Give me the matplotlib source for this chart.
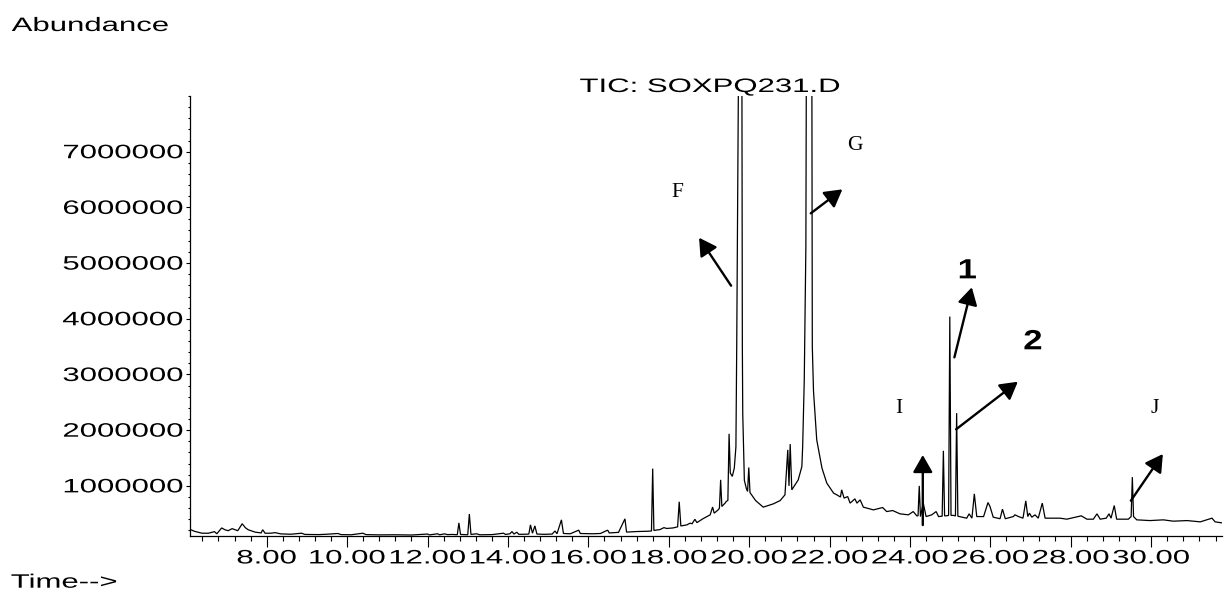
import matplotlib
matplotlib.use("Agg")
import matplotlib.pyplot as plt
from matplotlib.patheffects import AbstractPathEffect
from matplotlib.transforms import Affine2D
from matplotlib.ticker import MultipleLocator

# ---------------- data ----------------
rt_min = [
    6.07, 6.20, 6.39, 6.55, 6.70, 6.76, 6.88, 6.96, 7.04, 7.14, 7.28, 7.39, 7.47, 7.54,
    7.71, 7.86, 7.90, 7.96, 8.10, 8.21, 8.35, 8.60, 8.87, 8.95, 9.30, 9.50, 9.77, 9.85,
    10.10, 10.39, 10.47, 10.80, 11.20, 11.60, 12.00, 12.05, 12.25, 12.30, 12.42, 12.50,
    12.62, 12.74, 12.78, 12.82, 13.00, 13.04, 13.08, 13.22, 13.30, 13.60, 13.89, 13.94,
    14.05, 14.10, 14.15, 14.22, 14.27, 14.45, 14.52, 14.56, 14.61, 14.67, 14.72, 14.90,
    15.10, 15.17, 15.22, 15.33, 15.38, 15.55, 15.76, 15.80, 16.10, 16.30, 16.48, 16.52,
    16.75, 16.91, 16.95, 17.20, 17.45, 17.57, 17.60, 17.63, 17.78, 17.88, 17.95, 18.11,
    18.22, 18.26, 18.30, 18.45, 18.53, 18.58, 18.65, 18.70, 18.85, 18.95, 19.03, 19.09,
    19.13, 19.23, 19.26, 19.29, 19.32, 19.40, 19.43, 19.47, 19.50, 19.53, 19.58, 19.63,
    19.67, 19.69, 19.71, 19.73, 19.775, 19.82, 19.83, 19.84, 19.86, 19.88, 19.93, 19.96,
    19.99, 20.02, 20.16, 20.35, 20.60, 20.77, 20.89, 20.96, 20.99, 21.02, 21.06, 21.14,
    21.22, 21.31, 21.33, 21.37, 21.41, 21.42, 21.49, 21.56, 21.57, 21.60, 21.68, 21.81,
    21.93, 22.10, 22.18, 22.27, 22.30, 22.36, 22.45, 22.51, 22.63, 22.68, 22.76, 22.84,
    23.09, 23.32, 23.42, 23.57, 23.75, 23.96, 24.08, 24.17, 24.20, 24.23, 24.26, 24.33,
    24.40, 24.54, 24.65, 24.71, 24.80, 24.83, 24.86, 24.90, 24.96, 24.99, 25.02, 25.08,
    25.13, 25.16, 25.19, 25.23, 25.41, 25.47, 25.54, 25.60, 25.66, 25.83, 25.94, 25.99,
    26.07, 26.24, 26.30, 26.37, 26.57, 26.61, 26.70, 26.81, 26.88, 26.93, 26.97, 27.03,
    27.11, 27.19, 27.29, 27.36, 27.73, 27.90, 28.26, 28.40, 28.56, 28.65, 28.73, 28.88,
    28.95, 29.00, 29.08, 29.14, 29.43, 29.50, 29.53, 29.56, 29.64, 29.97, 30.30, 30.55,
    30.89, 31.22, 31.51, 31.59, 31.81,
]
abundance = [
    228e3, 185e3, 150e3, 150e3, 178e3, 140e3, 245e3, 212e3, 195e3, 232e3, 195e3, 320e3, 248e3, 212e3,
    170e3, 155e3, 212e3, 150e3, 150e3, 160e3, 138e3, 132e3, 150e3, 128e3, 125e3, 132e3, 145e3, 125e3,
    122e3, 150e3, 125e3, 120e3, 122e3, 118e3, 135e3, 120e3, 140e3, 122e3, 138e3, 125e3,
    128e3, 122e3, 335e3, 128e3, 122e3, 495e3, 128e3, 140e3, 122e3, 125e3, 150e3, 128e3,
    140e3, 180e3, 135e3, 168e3, 130e3, 132e3, 135e3, 300e3, 150e3, 282e3, 135e3, 130e3,
    135e3, 190e3, 140e3, 390e3, 145e3, 140e3, 205e3, 145e3, 140e3, 145e3, 205e3, 155e3,
    165e3, 408e3, 170e3, 180e3, 185e3, 190e3, 1310e3, 200e3, 215e3, 250e3, 235e3, 245e3,
    265e3, 715e3, 280e3, 300e3, 330e3, 320e3, 400e3, 340e3, 410e3, 450e3, 480e3, 620e3,
    510e3, 570e3, 600e3, 1108e3, 630e3, 690e3, 720e3, 740e3, 1935e3, 1230e3, 1170e3, 1320e3,
    1700e3, 3500e3, 5900e3, 8000e3, 12000e3, 8000e3, 3500e3, 2300e3, 1700e3, 1100e3, 950e3, 900e3,
    1330e3, 880e3, 736e3, 618e3, 677e3, 736e3, 839e3, 1647e3, 1000e3, 1750e3, 929e3, 1018e3,
    1108e3, 1347e3, 1700e3, 2900e3, 5300e3, 8000e3, 12000e3, 8000e3, 3500e3, 2700e3, 1827e3, 1320e3,
    1050e3, 869e3, 839e3, 800e3, 929e3, 780e3, 808e3, 690e3, 767e3, 690e3, 749e3, 618e3,
    569e3, 611e3, 539e3, 557e3, 498e3, 480e3, 539e3, 462e3, 462e3, 1000e3, 449e3, 690e3,
    449e3, 480e3, 539e3, 449e3, 455e3, 1630e3, 462e3, 462e3, 470e3, 4040e3, 470e3, 470e3,
    460e3, 2306e3, 455e3, 449e3, 420e3, 498e3, 420e3, 857e3, 449e3, 449e3, 701e3, 629e3,
    438e3, 410e3, 582e3, 410e3, 449e3, 480e3, 449e3, 420e3, 731e3, 449e3, 510e3, 438e3,
    480e3, 420e3, 690e3, 420e3, 420e3, 402e3, 462e3, 402e3, 402e3, 498e3, 402e3, 420e3,
    498e3, 420e3, 647e3, 402e3, 402e3, 449e3, 1157e3, 449e3, 390e3, 377e3, 390e3, 366e3,
    377e3, 354e3, 420e3, 354e3, 330e3,
]

x_ticks = [8, 10, 12, 14, 16, 18, 20, 22, 24, 26, 28, 30]
x_tick_labels = ["8.00", "10.00", "12.00", "14.00", "16.00", "18.00",
                 "20.00", "22.00", "24.00", "26.00", "28.00", "30.00"]
y_ticks = [1000000, 2000000, 3000000, 4000000, 5000000, 6000000, 7000000]
y_tick_labels = [str(v) for v in y_ticks]

# annotation letters: (text, time, abundance at baseline)
letter_labels = ["F", "G", "I", "J"]
letter_t = [18.206, 22.635, 23.729, 30.085]
letter_a = [6.19e6, 7.035e6, 2.314e6, 2.314e6]
number_labels = ["1", "2"]
number_t = [25.426, 27.057]
number_a = [4.726e6, 3.452e6]

# arrows: tail -> head (time, abundance)
arrow_tail_t = [19.550, 21.532, 24.318, 25.104, 25.147, 29.493]
arrow_tail_a = [4.594e6, 5.893e6, 0.297e6, 3.308e6, 2.016e6, 0.734e6]
arrow_head_t = [18.754, 22.318, 24.318, 25.537, 26.682, 30.289]
arrow_head_a = [5.455e6, 6.324e6, 1.554e6, 4.565e6, 2.870e6, 1.572e6]


# ---------------- horizontal stretch of glyph outlines ----------------
class HStretch(AbstractPathEffect):
    def __init__(self, sx, anchor="left"):
        super().__init__()
        self.sx = sx
        self.anchor = anchor

    def draw_path(self, renderer, gc, tpath, affine, rgbFace=None):
        ext = tpath.get_extents()
        if self.anchor == "center":
            cx = 0.5 * (ext.x0 + ext.x1)
        elif self.anchor == "right":
            cx = ext.x1
        else:
            cx = ext.x0
        pre = Affine2D().translate(-cx, 0).scale(self.sx, 1.0).translate(cx, 0)
        renderer.draw_path(gc, tpath, pre + affine, rgbFace)


SX = 1.6
SANS = "Liberation Sans"
FS = 14

fig = plt.figure(figsize=(12.24, 5.95), dpi=100)
W, H = 1224.0, 595.0
ax = fig.add_axes([190 / W, (H - 536) / H, 1032 / W, 440 / H])

ax.plot(rt_min, abundance, color="black", lw=0.9, solid_joinstyle="miter")
ax.set_xlim(6.092, 31.76)
ax.set_ylim(1.0e5, 8.0e6)

for s in ("top", "right"):
    ax.spines[s].set_visible(False)
for s in ("left", "bottom"):
    ax.spines[s].set_linewidth(0.9)

ax.set_xticks(x_ticks, x_tick_labels)
ax.set_yticks(y_ticks, y_tick_labels)
ax.xaxis.set_minor_locator(MultipleLocator(0.4))
ax.yaxis.set_minor_locator(MultipleLocator(200000))
ax.tick_params(axis="x", which="major", length=7.9, width=0.8, pad=2.5, labelsize=FS)
ax.tick_params(axis="x", which="minor", length=3.6, width=0.8)
ax.tick_params(axis="y", which="major", length=2.9, width=0.8, pad=1.8, labelsize=FS)
ax.tick_params(axis="y", which="minor", length=1.5, width=0.8)

for lab in ax.get_xticklabels():
    lab.set_fontfamily(SANS)
    lab.set_path_effects([HStretch(SX, "center")])
for lab in ax.get_yticklabels():
    lab.set_fontfamily(SANS)
    lab.set_path_effects([HStretch(SX, "right")])

# axis labels placed like the instrument printout
ylab = ax.set_ylabel("Abundance", rotation=0, ha="left", va="baseline",
                     fontsize=FS, fontfamily=SANS)
ax.yaxis.set_label_coords((11.7 - 190) / 1032, (536 - 31) / 440)
ylab.set_path_effects([HStretch(SX, "left")])
xlab = ax.set_xlabel("Time-->", ha="left", va="baseline", fontsize=FS, fontfamily=SANS)
ax.xaxis.set_label_coords((11 - 190) / 1032, (536 - 587.7) / 440)
xlab.set_path_effects([HStretch(SX, "left")])

title = ax.set_title("TIC: SOXPQ231.D", x=(710 - 190) / 1032, pad=2.7,
                     fontsize=FS, fontfamily=SANS)
title.set_path_effects([HStretch(SX, "center")])

for txt, t, a in zip(letter_labels, letter_t, letter_a):
    ax.text(t, a, txt, fontsize=15.5, fontfamily="Liberation Serif",
            ha="center", va="baseline", color="black")
for txt, t, a in zip(number_labels, number_t, number_a):
    tx = ax.text(t, a, txt, fontsize=20, fontfamily=SANS, fontweight="bold",
                 ha="center", va="baseline", color="black")
    tx.set_path_effects([HStretch(1.25, "center")])

for t0, a0, t1, a1 in zip(arrow_tail_t, arrow_tail_a, arrow_head_t, arrow_head_a):
    ax.annotate("", xy=(t1, a1), xytext=(t0, a0), xycoords="data", textcoords="data",
                arrowprops=dict(arrowstyle="-|>,head_length=0.42,head_width=0.24",
                                mutation_scale=25, lw=1.7, color="black",
                                shrinkA=0, shrinkB=0),
                annotation_clip=False)

fig.savefig("out.png", dpi=100)
